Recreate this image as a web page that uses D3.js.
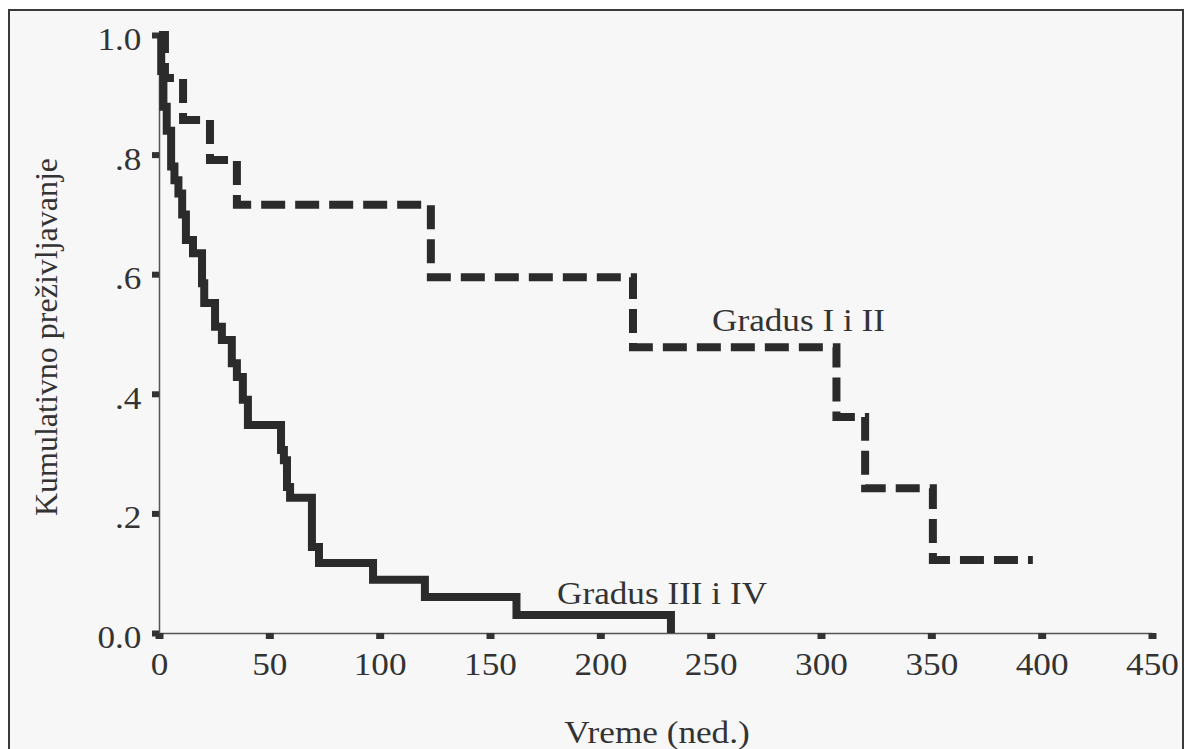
<!DOCTYPE html>
<html>
<head>
<meta charset="utf-8">
<script src="https://cdn.jsdelivr.net/npm/d3@7.9.0/dist/d3.min.js"></script>
<style>
  html, body { margin: 0; padding: 0; background: #fff; }
  svg { display: block; }
  text { font-family: "Liberation Serif", "DejaVu Serif", serif; fill: #333; }
</style>
</head>
<body>
<svg id="chart" width="1192" height="749"></svg>
<script>
// Kaplan-Meier steps: time (weeks) where survival drops, and survival after the drop
const lowTimes = [0, 1, 2, 3.5, 5.5, 7, 8.8, 10.5, 12.2, 15.4, 19.5, 20.5, 25.4, 28.5, 33, 35.3, 38, 40.3,
  55.3, 56.6, 58, 59.4, 69.3, 72.5, 97, 120.5, 162, 232];
const lowSurv = [1, 0.94, 0.88, 0.84, 0.78, 0.757, 0.735, 0.70, 0.657, 0.635, 0.585, 0.552, 0.512, 0.49, 0.451, 0.428, 0.39, 0.348,
  0.306, 0.289, 0.244, 0.226, 0.144, 0.117, 0.089, 0.060, 0.030, 0];

const highTimes = [0, 2.7, 10.9, 23.1, 35.3, 123.2, 214.8, 307, 320, 350.7, 396];
const highSurv = [1, 0.928, 0.858, 0.791, 0.716, 0.595, 0.478, 0.361, 0.242, 0.122, 0.122];

const xTicks = [0, 50, 100, 150, 200, 250, 300, 350, 400, 450];
const yTicks = [0, 0.2, 0.4, 0.6, 0.8, 1.0];
const yTickLabels = ["0.0", ".2", ".4", ".6", ".8", "1.0"];

const svg = d3.select("#chart");

// frame
svg.append("rect")
  .attr("x", 9).attr("y", 10)
  .attr("width", 1174).attr("height", 760)
  .attr("fill", "#f7f7f7")
  .attr("stroke", "#3a3a3a")
  .attr("stroke-width", 2);

const x = d3.scaleLinear().domain([0, 450]).range([159, 1152]);
const y = d3.scaleLinear().domain([0, 1]).range([633, 35]);

const stretch = "scale(1.1,1)";

// x axis
const xAxis = svg.append("g")
  .attr("transform", `translate(0,${y(0)})`)
  .call(d3.axisBottom(x).tickValues(xTicks).tickSize(6).tickSizeOuter(0).tickPadding(13));
xAxis.select(".domain").attr("stroke", "#555").attr("stroke-width", 1.5);
xAxis.selectAll(".tick line").attr("stroke", "#333").attr("stroke-width", 8);
xAxis.selectAll(".tick text")
  .attr("font-size", 32)
  .attr("transform", stretch)
  .style("font-family", '"Liberation Serif", serif')
  .attr("fill", "#333");

// y axis
const yAxis = svg.append("g")
  .attr("transform", `translate(${x(0)},0)`)
  .call(d3.axisLeft(y).tickValues(yTicks).tickSize(7).tickSizeOuter(0).tickPadding(9)
    .tickFormat((d, i) => yTickLabels[i]));
yAxis.select(".domain").attr("stroke", "#555").attr("stroke-width", 1.5);
yAxis.selectAll(".tick line").attr("stroke", "#333").attr("stroke-width", 6);
yAxis.selectAll(".tick text")
  .attr("font-size", 32)
  .attr("dy", "0.45em")
  .attr("transform", stretch)
  .style("font-family", '"Liberation Serif", serif')
  .attr("fill", "#333");

// survival curves
const line = d3.line()
  .x(d => x(d[0]))
  .y(d => y(d[1]))
  .curve(d3.curveStepAfter);

svg.append("path")
  .datum(highTimes.map((t, i) => [t, highSurv[i]]))
  .attr("d", line)
  .attr("fill", "none")
  .attr("stroke", "#2b2b2b")
  .attr("stroke-width", 8)
  .attr("stroke-dasharray", "24,10");

svg.append("path")
  .datum(lowTimes.map((t, i) => [t, lowSurv[i]]))
  .attr("d", line)
  .attr("fill", "none")
  .attr("stroke", "#2b2b2b")
  .attr("stroke-width", 8);

// curve labels
svg.append("text")
  .attr("transform", `translate(712,331) ${stretch}`)
  .attr("font-size", 32)
  .text("Gradus I i II");

svg.append("text")
  .attr("transform", `translate(557,604) ${stretch}`)
  .attr("font-size", 32)
  .text("Gradus III i IV");

// axis titles
svg.append("text")
  .attr("transform", `translate(657,743) ${stretch}`)
  .attr("text-anchor", "middle")
  .attr("font-size", 32)
  .text("Vreme (ned.)");

svg.append("text")
  .attr("transform", "translate(57,337) rotate(-90)")
  .attr("text-anchor", "middle")
  .attr("font-size", 32)
  .text("Kumulativno preživljavanje");
</script>
</body>
</html>
